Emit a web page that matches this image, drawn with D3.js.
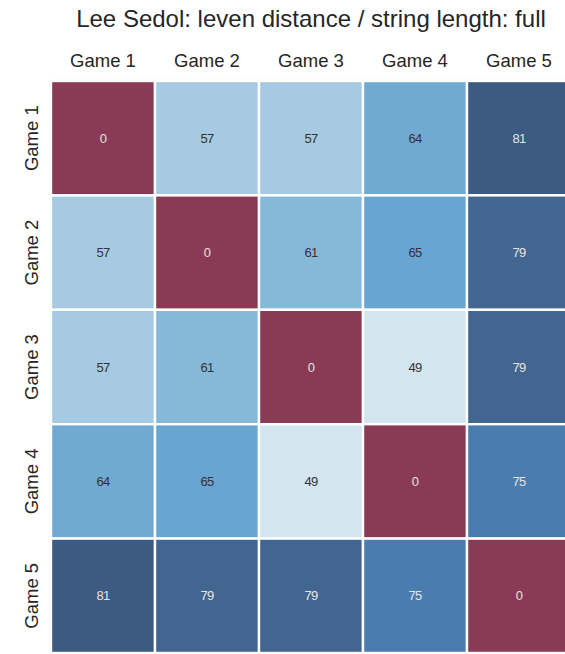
<!DOCTYPE html>
<html>
<head>
<meta charset="utf-8">
<script src="https://cdn.jsdelivr.net/npm/d3@7"></script>
<style>
  html, body { margin: 0; padding: 0; background: #fff; }
  svg { display: block; font-family: "Liberation Sans", Arial, sans-serif; }
</style>
</head>
<body>
<svg id="chart" width="565" height="654"></svg>
<script>
// Pairwise Levenshtein distance between games (normalised by string length, %)
const games = ["Game 1", "Game 2", "Game 3", "Game 4", "Game 5"];
const distances = [
  [0, 57, 57, 64, 81],
  [57, 0, 61, 65, 79],
  [57, 61, 0, 49, 79],
  [64, 65, 49, 0, 75],
  [81, 79, 79, 75, 0]
];
const titleText = "Lee Sedol: leven distance / string length: full";

// colour ramp: maroon at zero, pale blue to deep blue for larger distances
const colorStops = [0, 49, 57, 61, 65, 75, 79, 81];
const colorRange = ["#8a3a55", "#d5e5ef", "#a5cae2", "#86b8da", "#69a5d1", "#4a7caf", "#42668f", "#3c5a82"];

const svg = d3.select("#chart");
const margin = { left: 51, top: 81 };
const cellW = 104, cellH = 114.4;
const gridW = cellW * games.length, gridH = cellH * games.length;

const x = d3.scaleBand().domain(games).range([margin.left, margin.left + gridW]);
const y = d3.scaleBand().domain(games).range([margin.top, margin.top + gridH]);
const color = d3.scaleLinear().domain(colorStops).range(colorRange).interpolate(d3.interpolateRgb);

const cells = [];
distances.forEach((row, i) => row.forEach((v, j) => cells.push({ r: games[i], c: games[j], v })));

// outer frame
svg.append("rect")
  .attr("x", margin.left - 0.5).attr("y", margin.top - 0.5)
  .attr("width", gridW + 1).attr("height", gridH + 1)
  .attr("fill", "none").attr("stroke", "#c8c8c8").attr("stroke-width", 1.2);

svg.append("g").selectAll("rect").data(cells).join("rect")
  .attr("x", d => x(d.c)).attr("y", d => y(d.r))
  .attr("width", x.bandwidth()).attr("height", y.bandwidth())
  .attr("fill", d => color(d.v))
  .attr("stroke", "#fff").attr("stroke-width", 2.4);

// value annotations
svg.append("g").selectAll("text").data(cells).join("text")
  .attr("x", d => x(d.c) + x.bandwidth() / 2)
  .attr("y", d => y(d.r) + y.bandwidth() / 2)
  .attr("text-anchor", "middle").attr("dominant-baseline", "central")
  .attr("font-size", 13).attr("letter-spacing", -0.8)
  .attr("fill", d => (d.v === 0 || d.v >= 70) ? "#e4e4e4" : "#333")
  .text(d => d.v);

// column labels on top
const xAxis = d3.axisTop(x).tickSize(0).tickPadding(14);
svg.append("g").attr("transform", `translate(0,${margin.top})`).call(xAxis)
  .call(g => g.select(".domain").remove())
  .selectAll("text").attr("font-size", 18.5).attr("fill", "#262626")
  .attr("font-family", "'Liberation Sans', Arial, sans-serif");

// row labels, rotated
const yAxis = d3.axisLeft(y).tickSize(0).tickPadding(0);
const yg = svg.append("g").attr("transform", `translate(${margin.left},0)`).call(yAxis);
yg.select(".domain").remove();
yg.selectAll("text")
  .attr("font-size", 18.5).attr("fill", "#262626")
  .attr("font-family", "'Liberation Sans', Arial, sans-serif")
  .attr("transform", "translate(-20,0) rotate(-90)")
  .attr("x", 0).attr("dy", 0)
  .attr("dominant-baseline", "central")
  .attr("text-anchor", "middle");

svg.append("text")
  .attr("x", margin.left + gridW / 2).attr("y", 27)
  .attr("text-anchor", "middle")
  .attr("font-size", 24).attr("fill", "#262626")
  .text(titleText);
</script>
</body>
</html>
